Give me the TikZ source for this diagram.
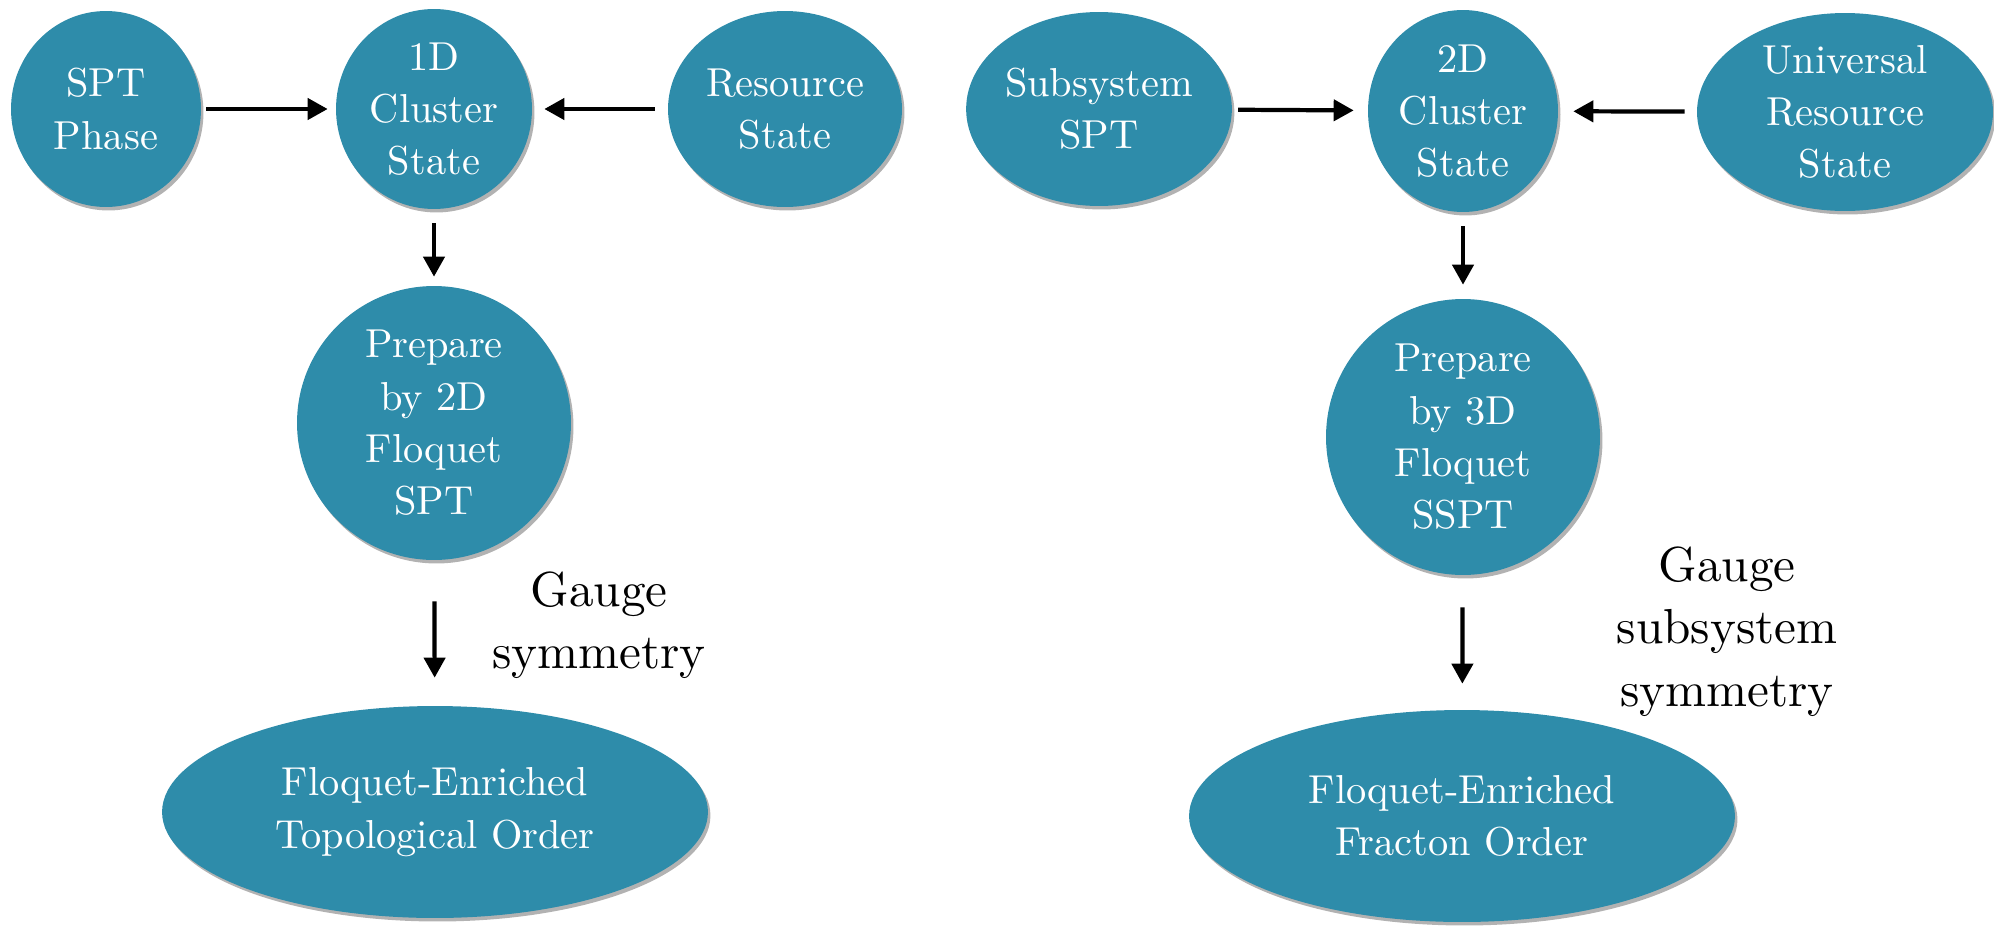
\documentclass[tikz,border=0pt]{standalone}
\usepackage{fontspec}
\setmainfont{lmroman10-regular}[Extension=.otf]
\usetikzlibrary{shapes.geometric,arrows.meta,shadows}
\definecolor{teal1}{RGB}{46,140,170}
\tikzset{
  bubble/.style={ellipse, fill=teal1, text=white, inner sep=0pt, align=center,
    font=\fontsize{23}{29.8}\selectfont,
    drop shadow={shadow xshift=0.05cm, shadow yshift=-0.07cm, opacity=0.3, fill=black}},
  conn/.style={line width=2.4pt, -{Triangle[length=0.4cm, width=0.42cm]}},
  gaugelabel/.style={align=center, inner sep=0pt, anchor=north, font=\fontsize{28}{35.7}\selectfont}
}
\begin{document}
\begin{tikzpicture}[x=0.02cm, y=-0.02cm]
\useasboundingbox (0,0) rectangle (1994,930);
% top row, left
\node[bubble, minimum width=3.8cm, minimum height=3.92cm] (sptphase) at (106,109) {SPT\\Phase};
\node[bubble, minimum width=3.92cm, minimum height=4.0cm] (c1d) at (434,109) {1D\\Cluster\\State};
\node[bubble, minimum width=4.68cm, minimum height=3.92cm] (res) at (785,109) {Resource\\State};
% top row, right
\node[bubble, minimum width=5.16cm, minimum height=3.88cm] (subspt) at (1099,109) {Subsystem\\SPT};
\node[bubble, minimum width=3.8cm, minimum height=4.04cm] (c2d) at (1463,111) {2D\\Cluster\\State};
\node[bubble, minimum width=5.92cm, minimum height=3.96cm] (univ) at (1845,112) {Universal\\Resource\\State};
% middle
\node[bubble, minimum width=5.48cm, minimum height=5.48cm] (prep2) at (434,423) {Prepare\\by 2D\\Floquet\\SPT};
\node[bubble, minimum width=5.48cm, minimum height=5.52cm] (prep3) at (1463,437) {Prepare\\by 3D\\Floquet\\SSPT};
% bottom
\node[bubble, minimum width=10.92cm, minimum height=4.24cm] (feto) at (435,812) {Floquet-Enriched\\Topological Order};
\node[bubble, minimum width=10.92cm, minimum height=4.24cm] (fefo) at (1462,816) {Floquet-Enriched\\Fracton Order};
% labels
\node[gaugelabel] (lblL) at (599,571) {Gauge\\symmetry};
\node[gaugelabel] (lblR) at (1727,546) {Gauge\\subsystem\\symmetry};
% connectors
\draw[conn, shorten <=0.1cm, shorten >=0.16cm] (sptphase) -- (c1d);
\draw[conn, shorten <=0.26cm, shorten >=0.24cm] (res) -- (c1d);
\draw[conn, shorten <=0.12cm, shorten >=0.28cm] (subspt) -- (c2d);
\draw[conn, shorten <=0.24cm, shorten >=0.3cm] (univ) -- (c2d);
\draw[conn, shorten <=0.28cm, shorten >=0.18cm] (c1d) -- (prep2);
\draw[conn, shorten <=0.82cm, shorten >=0.56cm] (prep2) -- (feto);
\draw[conn, shorten <=0.28cm, shorten >=0.28cm] (c2d) -- (prep3);
\draw[conn, shorten <=0.64cm, shorten >=0.52cm] (prep3) -- (fefo);
\end{tikzpicture}
\end{document}
